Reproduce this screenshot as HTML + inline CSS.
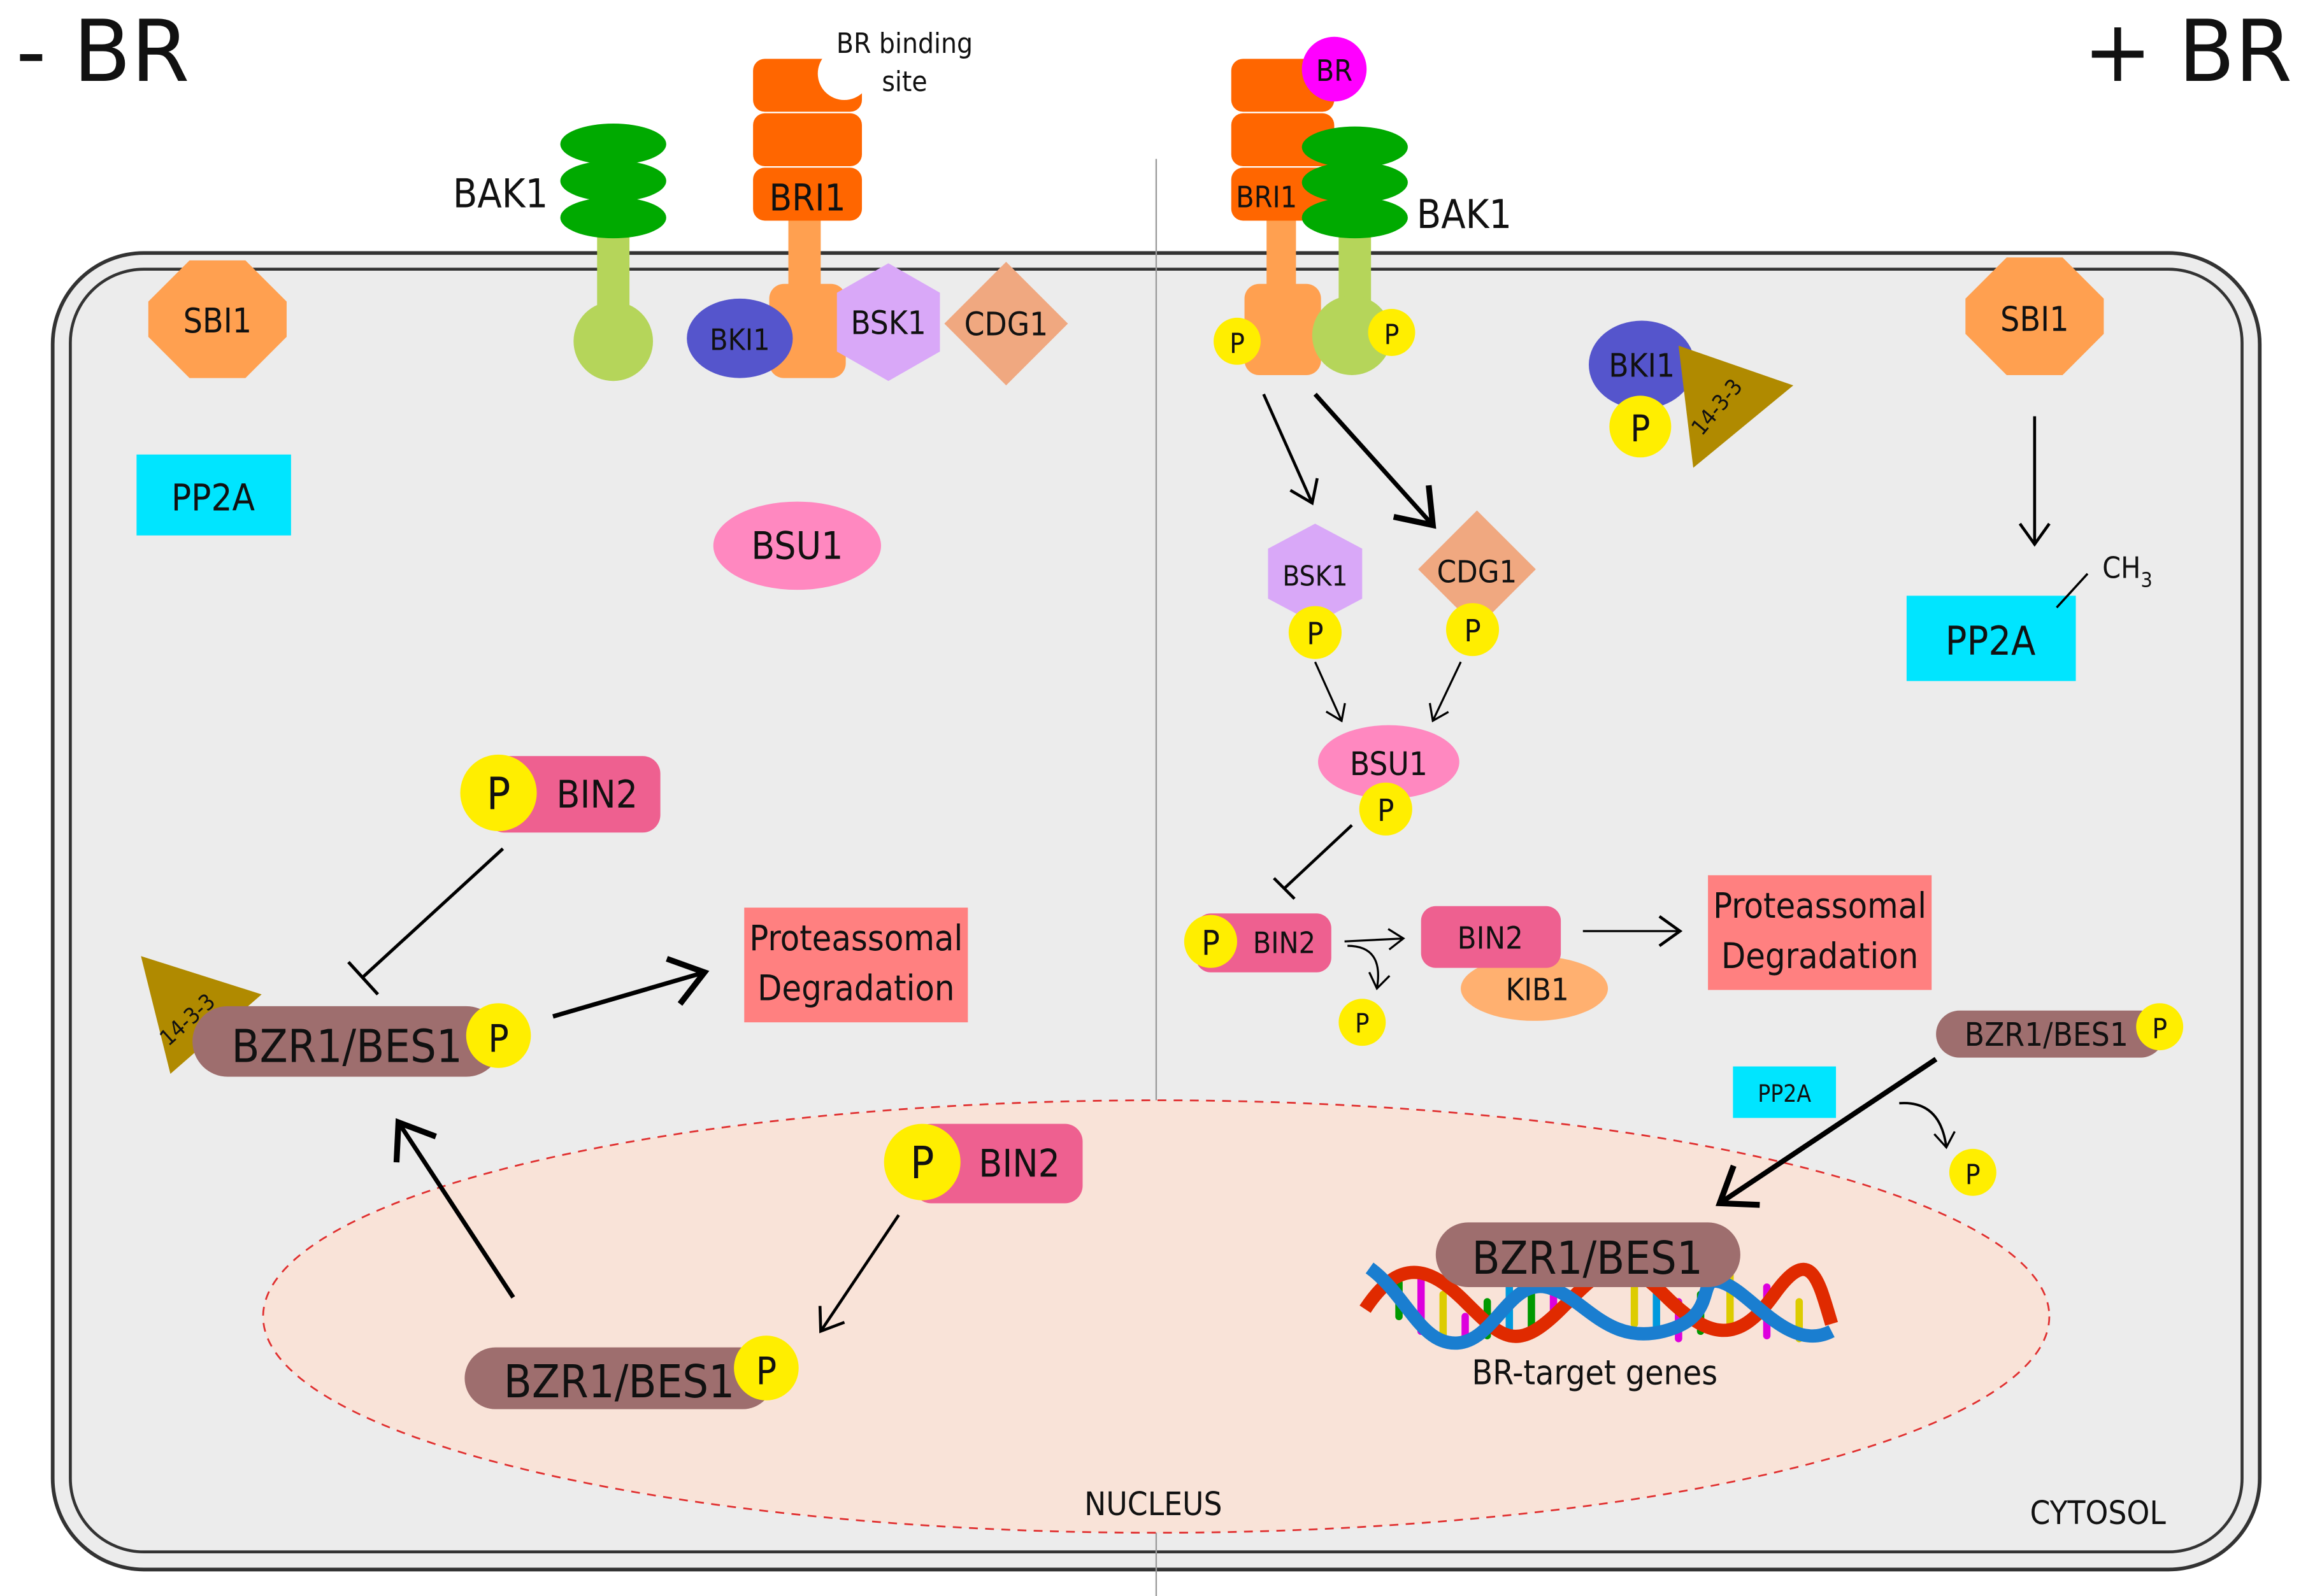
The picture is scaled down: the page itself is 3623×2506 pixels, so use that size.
<!DOCTYPE html>
<html><head><meta charset="utf-8">
<style>
html,body{margin:0;padding:0;background:#fff;}
svg{display:block;}
text{font-family:"DejaVu Sans Condensed","Liberation Sans Narrow","Liberation Sans",sans-serif;fill:#111;}
</style></head><body>
<svg width="3623" height="2506" viewBox="0 0 1567 1085" xmlns="http://www.w3.org/2000/svg">
<defs>
<marker id="ah" markerUnits="userSpaceOnUse" markerWidth="40" markerHeight="40" refX="20" refY="20" orient="auto" viewBox="0 0 40 40">
<polyline points="6,10 20,20 6,30" fill="none" stroke="#000" stroke-width="2"/>
</marker>
<marker id="ahb" markerUnits="userSpaceOnUse" markerWidth="60" markerHeight="60" refX="30" refY="30" orient="auto" viewBox="0 0 60 60">
<polyline points="8,14 30,30 8,46" fill="none" stroke="#000" stroke-width="4"/>
</marker>
<marker id="ahs" markerUnits="userSpaceOnUse" markerWidth="30" markerHeight="30" refX="15" refY="15" orient="auto" viewBox="0 0 30 30">
<polyline points="5,8 15,15 5,22" fill="none" stroke="#000" stroke-width="1.4"/>
</marker>
</defs>
<rect width="1567" height="1085" fill="#fff"/>
<text x="10" y="55" font-size="58" textLength="118" lengthAdjust="spacingAndGlyphs">- BR</text>
<text x="1415" y="55" font-size="58" textLength="142" lengthAdjust="spacingAndGlyphs">+ BR</text>

<!-- cell -->
<rect x="35" y="172" width="1500" height="895" rx="62" fill="#ececec" stroke="#333" stroke-width="2.5"/>
<rect x="47" y="183" width="1476" height="872" rx="50" fill="none" stroke="#333" stroke-width="2"/>
<line x1="785" y1="108" x2="785" y2="1085" stroke="#999" stroke-width="1"/>
<ellipse cx="785" cy="895" rx="607" ry="147" fill="#f9e3d8" stroke="#e03030" stroke-width="1.2" stroke-dasharray="6,5"/>
<text x="783" y="1030" font-size="22" text-anchor="middle">NUCLEUS</text>
<text x="1425" y="1036" font-size="22" text-anchor="middle">CYTOSOL</text>

<!-- LEFT receptors -->
<rect x="405" y="150" width="22" height="62" fill="#b5d55a"/>
<circle cx="416" cy="232" r="27" fill="#b5d55a"/>
<ellipse cx="416" cy="98" rx="36" ry="14" fill="#00aa00"/>
<ellipse cx="416" cy="123" rx="36" ry="14" fill="#00aa00"/>
<ellipse cx="416" cy="148" rx="36" ry="14" fill="#00aa00"/>
<text x="307" y="141" font-size="27">BAK1</text>

<rect x="535" y="148" width="22" height="52" fill="#ffa050"/>
<rect x="522" y="193" width="52" height="64" rx="10" fill="#ffa050"/>
<rect x="511" y="40" width="74" height="36" rx="8" fill="#ff6600"/>
<rect x="511" y="77" width="74" height="36" rx="8" fill="#ff6600"/>
<rect x="511" y="114" width="74" height="36" rx="8" fill="#ff6600"/>
<circle cx="573" cy="50" r="18" fill="#fff"/>
<text x="548" y="143" font-size="25" text-anchor="middle">BRI1</text>
<text x="614" y="36" font-size="19" text-anchor="middle">BR binding</text>
<text x="614" y="62" font-size="19" text-anchor="middle">site</text>

<ellipse cx="502" cy="230" rx="36" ry="27" fill="#5555cc"/>
<text x="502" y="238" font-size="20" text-anchor="middle">BKI1</text>
<polygon points="603,179 638,199 638,239 603,259 568,239 568,199" fill="#d9a8f8"/>
<text x="603" y="227" font-size="22" text-anchor="middle">BSK1</text>
<polygon points="683,178 725,220 683,262 641,220" fill="#f0a880"/>
<text x="683" y="228" font-size="22" text-anchor="middle">CDG1</text>

<polygon points="128,177 166,177 194,205 194,229 166,257 128,257 100,229 100,205" fill="#ffa050"/>
<text x="147" y="226" font-size="23" text-anchor="middle">SBI1</text>
<rect x="92" y="309" width="105" height="55" fill="#00e5ff"/>
<text x="144" y="347" font-size="25" text-anchor="middle">PP2A</text>
<ellipse cx="541" cy="371" rx="57" ry="30" fill="#ff88c0"/>
<text x="541" y="380" font-size="26" text-anchor="middle">BSU1</text>

<!-- left BIN2 -->
<rect x="330" y="514" width="118" height="52" rx="12" fill="#ee6090"/>
<circle cx="338" cy="539" r="26" fill="#ffee00"/>
<text x="338" y="550" font-size="30" text-anchor="middle">P</text>
<text x="405" y="549" font-size="26" text-anchor="middle">BIN2</text>
<line x1="341" y1="577" x2="245" y2="665" stroke="#000" stroke-width="2.2"/>
<line x1="236" y1="654" x2="256" y2="676" stroke="#000" stroke-width="2.2"/>

<polygon points="95,650 177,676 115,730" fill="#b08a00"/>
<text x="130" y="697" font-size="15" transform="rotate(-42 130 697)" text-anchor="middle">14-3-3</text>
<rect x="130" y="684" width="210" height="48" rx="24" fill="#9e6e6e"/>
<text x="235" y="722" font-size="31" text-anchor="middle">BZR1/BES1</text>
<circle cx="338" cy="704" r="22" fill="#ffee00"/>
<text x="338" y="715" font-size="26" text-anchor="middle">P</text>
<line x1="375" y1="691" x2="478" y2="661" stroke="#000" stroke-width="3" marker-end="url(#ahb)"/>
<rect x="505" y="617" width="152" height="78" fill="#ff8080"/>
<text x="581" y="646" font-size="24" text-anchor="middle">Proteassomal</text>
<text x="581" y="680" font-size="24" text-anchor="middle">Degradation</text>

<rect x="620" y="764" width="115" height="54" rx="12" fill="#ee6090"/>
<circle cx="626" cy="790" r="26" fill="#ffee00"/>
<text x="626" y="801" font-size="30" text-anchor="middle">P</text>
<text x="692" y="800" font-size="26" text-anchor="middle">BIN2</text>
<line x1="610" y1="826" x2="557" y2="905" stroke="#000" stroke-width="2" marker-end="url(#ah)"/>
<rect x="315" y="916" width="210" height="42" rx="21" fill="#9e6e6e"/>
<text x="420" y="950" font-size="31" text-anchor="middle">BZR1/BES1</text>
<circle cx="520" cy="930" r="22" fill="#ffee00"/>
<text x="520" y="941" font-size="26" text-anchor="middle">P</text>
<line x1="348" y1="882" x2="270" y2="763" stroke="#000" stroke-width="3" marker-end="url(#ahb)"/>

<!-- RIGHT receptors -->
<rect x="860" y="148" width="20" height="52" fill="#ffa050"/>
<rect x="845" y="193" width="52" height="62" rx="10" fill="#ffa050"/>
<rect x="836" y="40" width="70" height="36" rx="8" fill="#ff6600"/>
<rect x="836" y="77" width="70" height="36" rx="8" fill="#ff6600"/>
<rect x="836" y="114" width="70" height="36" rx="8" fill="#ff6600"/>
<circle cx="906" cy="47" r="22" fill="#ff00ff"/>
<text x="906" y="55" font-size="20" text-anchor="middle">BR</text>
<text x="860" y="141" font-size="20" text-anchor="middle">BRI1</text>
<rect x="909" y="150" width="22" height="60" fill="#b5d55a"/>
<circle cx="918" cy="228" r="27" fill="#b5d55a"/>
<ellipse cx="920" cy="100" rx="36" ry="14" fill="#00aa00"/>
<ellipse cx="920" cy="124" rx="36" ry="14" fill="#00aa00"/>
<ellipse cx="920" cy="148" rx="36" ry="14" fill="#00aa00"/>
<text x="962" y="155" font-size="27">BAK1</text>
<circle cx="840" cy="232" r="16" fill="#ffee00"/>
<text x="840" y="240" font-size="19" text-anchor="middle">P</text>
<circle cx="945" cy="226" r="16" fill="#ffee00"/>
<text x="945" y="234" font-size="19" text-anchor="middle">P</text>

<line x1="858" y1="268" x2="891" y2="342" stroke="#000" stroke-width="2" marker-end="url(#ah)"/>
<line x1="893" y1="268" x2="973" y2="357" stroke="#000" stroke-width="3" marker-end="url(#ahb)"/>

<polygon points="893,356 925,373 925,407 893,424 861,407 861,373" fill="#d9a8f8"/>
<text x="893" y="398" font-size="19" text-anchor="middle">BSK1</text>
<circle cx="893" cy="430" r="18" fill="#ffee00"/>
<text x="893" y="438" font-size="21" text-anchor="middle">P</text>
<polygon points="1003,347 1043,387 1003,427 963,387" fill="#f0a880"/>
<text x="1003" y="396" font-size="21" text-anchor="middle">CDG1</text>
<circle cx="1000" cy="428" r="18" fill="#ffee00"/>
<text x="1000" y="436" font-size="21" text-anchor="middle">P</text>
<line x1="893" y1="450" x2="911" y2="490" stroke="#000" stroke-width="1.4" marker-end="url(#ahs)"/>
<line x1="992" y1="450" x2="973" y2="490" stroke="#000" stroke-width="1.4" marker-end="url(#ahs)"/>

<ellipse cx="943" cy="518" rx="48" ry="25" fill="#ff88c0"/>
<text x="943" y="527" font-size="22" text-anchor="middle">BSU1</text>
<circle cx="941" cy="550" r="18" fill="#ffee00"/>
<text x="941" y="558" font-size="21" text-anchor="middle">P</text>
<line x1="918" y1="561" x2="872" y2="604" stroke="#000" stroke-width="2"/>
<line x1="865" y1="597" x2="879" y2="611" stroke="#000" stroke-width="2"/>

<rect x="812" y="621" width="92" height="40" rx="10" fill="#ee6090"/>
<circle cx="822" cy="640" r="18" fill="#ffee00"/>
<text x="822" y="649" font-size="23" text-anchor="middle">P</text>
<text x="872" y="648" font-size="20" text-anchor="middle">BIN2</text>
<line x1="913" y1="640" x2="953" y2="638" stroke="#000" stroke-width="1.4" marker-end="url(#ahs)"/>
<path d="M915,643 Q940,643 935,672" fill="none" stroke="#000" stroke-width="1.4" marker-end="url(#ahs)"/>
<circle cx="925" cy="695" r="16" fill="#ffee00"/>
<text x="925" y="702" font-size="18" text-anchor="middle">P</text>
<ellipse cx="1042" cy="672" rx="50" ry="22" fill="#ffb070"/>
<rect x="965" y="616" width="95" height="42" rx="10" fill="#ee6090"/>
<text x="1012" y="645" font-size="21" text-anchor="middle">BIN2</text>
<text x="1044" y="680" font-size="21" text-anchor="middle">KIB1</text>
<line x1="1075" y1="633" x2="1141" y2="633" stroke="#000" stroke-width="1.4" marker-end="url(#ah)"/>
<rect x="1160" y="595" width="152" height="78" fill="#ff8080"/>
<text x="1236" y="624" font-size="24" text-anchor="middle">Proteassomal</text>
<text x="1236" y="658" font-size="24" text-anchor="middle">Degradation</text>

<ellipse cx="1115" cy="248" rx="36" ry="30" fill="#5555cc"/>
<polygon points="1140,235 1218,262 1150,318" fill="#b08a00"/>
<text x="1170" y="280" font-size="15" transform="rotate(-50 1170 280)" text-anchor="middle">14-3-3</text>
<text x="1115" y="256" font-size="22" text-anchor="middle">BKI1</text>
<circle cx="1114" cy="290" r="21" fill="#ffee00"/>
<text x="1114" y="300" font-size="25" text-anchor="middle">P</text>

<polygon points="1363,175 1401,175 1429,203 1429,227 1401,255 1363,255 1335,227 1335,203" fill="#ffa050"/>
<text x="1382" y="225" font-size="23" text-anchor="middle">SBI1</text>
<line x1="1382" y1="283" x2="1382" y2="370" stroke="#000" stroke-width="2" marker-end="url(#ah)"/>
<rect x="1295" y="405" width="115" height="58" fill="#00e5ff"/>
<text x="1352" y="445" font-size="27" text-anchor="middle">PP2A</text>
<line x1="1397" y1="413" x2="1418" y2="390" stroke="#000" stroke-width="1.5"/>
<text x="1428" y="393" font-size="20">CH<tspan font-size="14" dy="6">3</tspan></text>

<rect x="1315" y="687" width="155" height="32" rx="16" fill="#9e6e6e"/>
<text x="1390" y="711" font-size="22" text-anchor="middle">BZR1/BES1</text>
<circle cx="1467" cy="698" r="16" fill="#ffee00"/>
<text x="1467" y="706" font-size="19" text-anchor="middle">P</text>
<rect x="1177" y="725" width="70" height="35" fill="#00e5ff"/>
<text x="1212" y="749" font-size="16" text-anchor="middle">PP2A</text>
<line x1="1315" y1="720" x2="1168" y2="818" stroke="#000" stroke-width="3.5" marker-end="url(#ahb)"/>
<path d="M1290,750 Q1318,748 1322,780" fill="none" stroke="#000" stroke-width="1.6" marker-end="url(#ahs)"/>
<circle cx="1340" cy="797" r="16" fill="#ffee00"/>
<text x="1340" y="805" font-size="19" text-anchor="middle">P</text>

<!-- DNA -->
<g>
<g stroke-width="5" stroke-linecap="round">
<line x1="950" y1="872" x2="950" y2="895" stroke="#009900"/>
<line x1="965" y1="870" x2="965" y2="905" stroke="#dd00dd"/>
<line x1="980" y1="880" x2="980" y2="912" stroke="#ddcc00"/>
<line x1="995" y1="895" x2="995" y2="910" stroke="#dd00dd"/>
<line x1="1010" y1="885" x2="1010" y2="908" stroke="#009900"/>
<line x1="1025" y1="870" x2="1025" y2="910" stroke="#0099dd"/>
<line x1="1040" y1="868" x2="1040" y2="905" stroke="#009900"/>
<line x1="1055" y1="868" x2="1055" y2="895" stroke="#dd00dd"/>
<line x1="1110" y1="870" x2="1110" y2="900" stroke="#ddcc00"/>
<line x1="1125" y1="875" x2="1125" y2="908" stroke="#0099dd"/>
<line x1="1140" y1="885" x2="1140" y2="910" stroke="#dd00dd"/>
<line x1="1155" y1="880" x2="1155" y2="905" stroke="#009900"/>
<line x1="1175" y1="865" x2="1175" y2="900" stroke="#ddcc00"/>
<line x1="1200" y1="875" x2="1200" y2="908" stroke="#dd00dd"/>
<line x1="1222" y1="885" x2="1222" y2="910" stroke="#ddcc00"/>
</g>
<path d="M927,890 C950,855 970,860 995,885 S1030,920 1060,890 S1100,850 1130,880 S1180,915 1205,880 S1235,870 1244,900" fill="none" stroke="#e02a00" stroke-width="9"/>
<path d="M930,862 C955,880 965,915 990,913 S1025,870 1050,875 S1090,915 1130,905 S1150,865 1170,872 S1215,920 1244,905" fill="none" stroke="#1a7ed0" stroke-width="9"/>
</g>
<rect x="975" y="831" width="207" height="44" rx="22" fill="#9e6e6e"/>
<text x="1078" y="866" font-size="31" text-anchor="middle">BZR1/BES1</text>
<text x="1083" y="941" font-size="23" text-anchor="middle">BR-target genes</text>
</svg>
</body></html>
